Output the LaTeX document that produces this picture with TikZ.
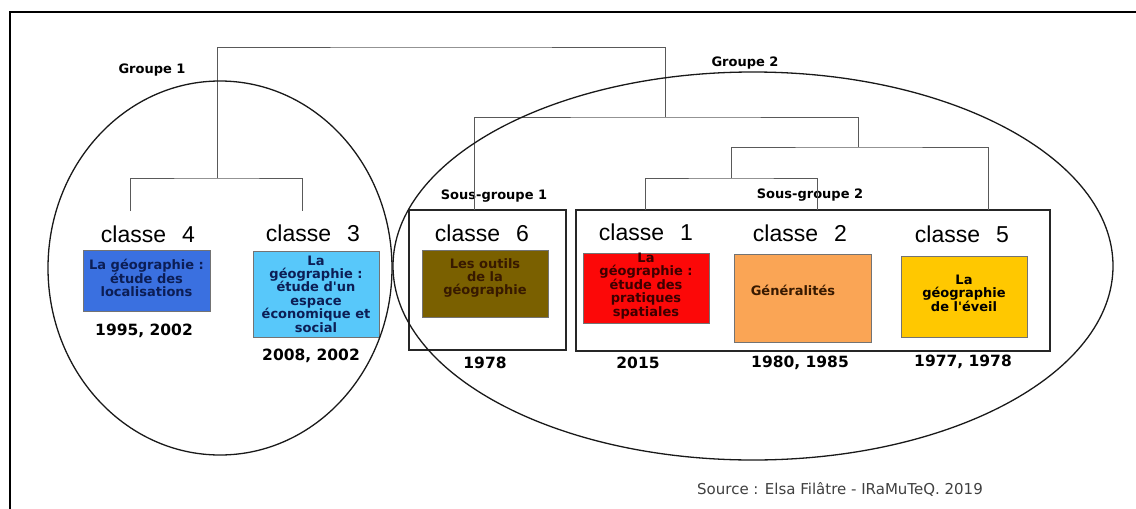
\documentclass[tikz,border=0pt]{standalone}
\usepackage{fontspec}
\setmainfont[Ligatures=ResetAll]{DejaVu Sans}
\newfontfamily\arialfont{Liberation Sans}
\usetikzlibrary{positioning}
\definecolor{blue4}{RGB}{58,112,224}
\definecolor{cyan3}{RGB}{88,200,250}
\definecolor{olive6}{RGB}{122,96,0}
\definecolor{red1}{RGB}{252,8,8}
\definecolor{orange2}{RGB}{250,165,85}
\definecolor{yellow5}{RGB}{255,200,0}
\definecolor{navytext}{RGB}{12,30,85}
\definecolor{darkred}{RGB}{60,0,0}
\definecolor{darkbrown}{RGB}{55,25,0}
\newcommand\straightapos{\XeTeXglyph\XeTeXcharglyph"27\relax}

\begin{document}
\begin{tikzpicture}[x=1pt, y=-1pt,
    classbox/.style={rectangle, draw=black!55, line width=0.8pt, inner sep=0pt},
    boxtext/.style={font=\bfseries\fontsize{13}{13.4}\selectfont, align=center, inner sep=0pt},
    classlabel/.style={font=\arialfont\fontsize{23}{23}\selectfont, inner sep=0pt},
    yearlabel/.style={font=\bfseries\fontsize{15.5}{15.5}\selectfont, inner sep=0pt},
    grouplabel/.style={font=\bfseries\fontsize{13}{13}\selectfont, inner sep=0pt},
    sgframe/.style={rectangle, draw=black!85, line width=1.5pt, inner sep=0pt},
    dendro/.style={draw=black!65, line width=0.9pt},
    ringline/.style={draw=black!90, line width=1.3pt}
]
\useasboundingbox (0,0) rectangle (1136,509);

% outer frame
\draw[line width=1.6pt] (10,530) -- (10,12) -- (1150,12);

% group and sub-group titles
\node[grouplabel] (grp1) at (152,70) {Groupe 1};
\node[grouplabel] (grp2) at (745,63) {Groupe 2};
\node[grouplabel] (sgl1) at (494,196) {Sous-groupe 1};
\node[grouplabel] (sgl2) at (810,195) {Sous-groupe 2};

% sub-group frames
\node[sgframe, minimum width=157pt, minimum height=140pt] (sg1) at (487.5,280) {};
\node[sgframe, minimum width=474pt, minimum height=141pt] (sg2) at (813,280.5) {};

% class titles
\node[classlabel] (c4) at (148,234) {classe\hspace{0.7em}4};
\node[classlabel] (c3) at (313,233) {classe\hspace{0.7em}3};
\node[classlabel] (c6) at (482,233) {classe\hspace{0.7em}6};
\node[classlabel] (c1) at (646,232) {classe\hspace{0.7em}1};
\node[classlabel] (c2) at (800,233) {classe\hspace{0.7em}2};
\node[classlabel] (c5) at (962,234) {classe\hspace{0.7em}5};

% coloured boxes
\node[classbox, fill=blue4, minimum width=127pt, minimum height=61pt] (b4) at (146.5,280.5) {};
\node[classbox, fill=cyan3, minimum width=126pt, minimum height=86pt] (b3) at (316,294) {};
\node[classbox, fill=olive6, minimum width=126pt, minimum height=67pt] (b6) at (485,283.5) {};
\node[classbox, fill=red1, minimum width=126pt, minimum height=70pt] (b1) at (646,288) {};
\node[classbox, fill=orange2, minimum width=137pt, minimum height=88pt] (b2) at (802.5,298) {};
\node[classbox, fill=yellow5, minimum width=126pt, minimum height=81pt] (b5) at (964,296.5) {};

% box texts
\node[boxtext, text=navytext] (t4) at (146.5,278) {La géographie :\\étude des\\localisations};
\node[boxtext, text=navytext] (t3) at (316,294) {La\\géographie :\\étude d\straightapos un\\espace\\économique et\\social};
\node[boxtext, text=darkbrown] (t6) at (485,278) {Les outils\\de la\\géographie};
\node[boxtext, text=darkred] (t1) at (646,286) {La\\géographie :\\étude des\\pratiques\\spatiales};
\node[boxtext, text=darkbrown] (t2) at (793,290) {Généralités};
\node[boxtext, text=black] (t5) at (964,293) {La\\géographie\\de l\straightapos éveil};

% years
\node[yearlabel] (y4) at (144,331) {1995, 2002};
\node[yearlabel] (y3) at (311,356) {2008, 2002};
\node[yearlabel] (y6) at (485,363) {1978};
\node[yearlabel] (y1) at (638,363) {2015};
\node[yearlabel] (y2) at (800,363) {1980, 1985};
\node[yearlabel] (y5) at (963,362) {1977, 1978};

% dendrogram
\coordinate (j4) at (130,211);
\coordinate (j3) at (302,211);
\coordinate (j6) at (474,210);
\coordinate (j1) at (645,210);
\coordinate (j2) at (817,210);
\coordinate (j5) at (988,210);
\coordinate (a1) at (217,178);
\coordinate (a2) at (665,117);
\coordinate (a3) at (858,147);
\coordinate (a4) at (731,178);
\coordinate (root) at (441,47);
\draw[dendro] (j4) |- (a1) -| (j3);
\draw[dendro] (a1) |- (root) -| (a2);
\draw[dendro] (j6) |- (a2) -| (a3);
\draw[dendro] (a4) |- (a3) -| (j5);
\draw[dendro] (j1) |- (a4) -| (j2);

% group rings
\draw[ringline] (220,268) ellipse (172 and 187);
\draw[ringline] (753,266) ellipse (360 and 194);

% source
\node[font=\fontsize{15}{15}\selectfont, text=black!75, inner sep=0pt] (src) at (840,489) {Source : Elsa Filâtre - IRaMuTeQ. 2019};

\end{tikzpicture}
\end{document}
